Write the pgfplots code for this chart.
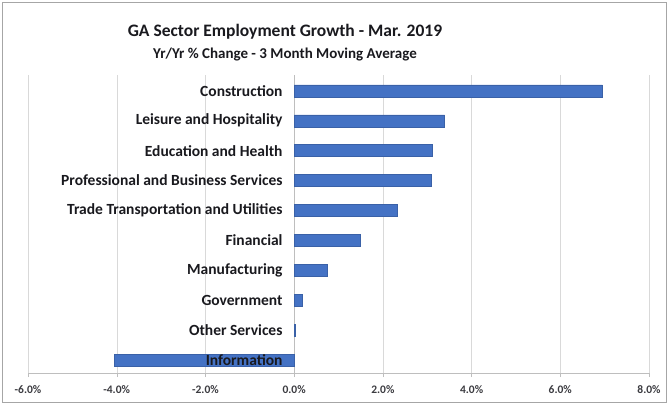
\documentclass[border=0pt]{standalone}
\usepackage{pgfplots}
\pgfplotsset{compat=1.18}
\usepackage{fontspec}
\setmainfont{Carlito}
\definecolor{barblue}{RGB}{68,114,196}
\definecolor{gridgray}{RGB}{217,217,217}
\definecolor{txt}{RGB}{25,25,30}
\pgfplotsset{
  common/.style={
    at={(28bp,31bp)}, anchor=south west, scale only axis, width=621bp, height=298bp,
    xmin=-6, xmax=8, ymin=-0.43, ymax=9.53,
  },
}
\begin{document}
\begin{tikzpicture}
\path[use as bounding box] (0,0) rectangle (668bp,404bp);
\draw[gray!70, line width=0.8bp] (2bp,2bp) rectangle (666bp,402bp);
\node[font=\bfseries\fontsize{17.5bp}{20bp}\selectfont, text=txt] at (285bp,372bp) {GA Sector Employment Growth - Mar. 2019};
\node[font=\bfseries\fontsize{15bp}{17bp}\selectfont, text=txt] at (285bp,349bp) {Yr/Yr \% Change - 3 Month Moving Average};
\begin{axis}[
  common,
  xbar, bar width=12bp,
  axis x line=bottom, axis y line=middle,
  axis line style={-, draw=gridgray!70!gray},
  hide obscured x ticks=false, hide obscured y ticks=false,
  xtick={-6,-4,...,8}, xmajorgrids, grid style={gridgray},
  /pgf/number format/.cd, fixed, fixed zerofill, precision=1, assume math mode=true, /pgfplots/.cd,
  xticklabel={\pgfmathprintnumber{\tick}\%},
  xticklabel style={font=\bfseries\fontsize{11.5bp}{13bp}\selectfont, text=txt!85, yshift=-5bp},
  x tick style={draw=gridgray!70!gray}, tick align=outside,
  major tick length=4bp,
  ytick={0,...,9}, yticklabels={},
  y tick style={draw=none},
]
\addplot[fill=barblue, draw=barblue!85!black, line width=0.4bp] coordinates {(-4.05,0) (0.03,1) (0.19,2) (0.74,3) (1.48,4) (2.32,5) (3.10,6) (3.11,7) (3.39,8) (6.95,9)};
\end{axis}
\begin{axis}[
  common,
  axis x line=none, axis y line=middle,
  axis line style={draw=none},
  hide obscured y ticks=false,
  ytick={0,...,9},
  yticklabels={Information,Other Services,Government,Manufacturing,Financial,Trade Transportation and Utilities,Professional and Business Services,Education and Health,Leisure and Hospitality,Construction},
  yticklabel style={font=\bfseries\fontsize{15.5bp}{17bp}\selectfont, text=txt, xshift=-6bp},
  y tick style={draw=none},
]
\end{axis}
\end{tikzpicture}
\end{document}
